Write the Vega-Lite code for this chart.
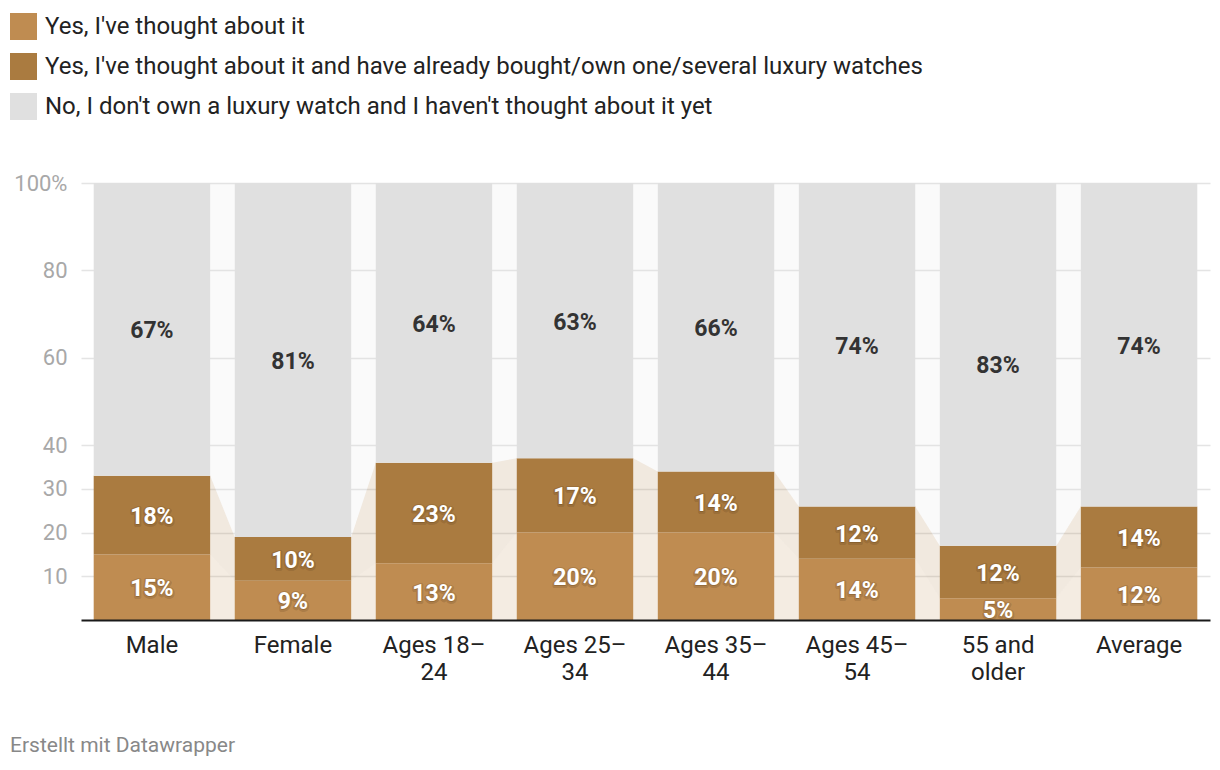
{
  "$schema": "https://vega.github.io/schema/vega-lite/v6.json",
  "width": 1129,
  "height": 437,
  "autosize": {"type": "none"},
  "padding": {"left": 81, "top": 183, "right": 10, "bottom": 150},
  "background": "#ffffff",
  "config": {
    "font": "Roboto",
    "view": {"stroke": null},
    "legend": {
      "orient": "none",
      "legendX": -71,
      "legendY": -170,
      "direction": "vertical",
      "title": null,
      "symbolType": "square",
      "symbolSize": 729,
      "symbolStrokeWidth": 0,
      "symbolOpacity": 1,
      "labelFontSize": 24,
      "labelColor": "#222222",
      "labelFont": "Roboto",
      "labelOffset": 8,
      "labelLimit": 1100,
      "rowPadding": 13,
      "padding": 0
    }
  },
  "resolve": {"scale": {"xOffset": "independent"}},
  "datasets": {
    "main": [
      {"cat": "Male", "a": 15, "b": 18, "c": 67},
      {"cat": "Female", "a": 9, "b": 10, "c": 81},
      {"cat": "Ages 18–24", "a": 13, "b": 23, "c": 64},
      {"cat": "Ages 25–34", "a": 20, "b": 17, "c": 63},
      {"cat": "Ages 35–44", "a": 20, "b": 14, "c": 66},
      {"cat": "Ages 45–54", "a": 14, "b": 12, "c": 74},
      {"cat": "55 and older", "a": 5, "b": 12, "c": 83},
      {"cat": "Average", "a": 12, "b": 14, "c": 74}
    ],
    "names": [
      {"key": "a", "series": "Yes, I've thought about it"},
      {"key": "b", "series": "Yes, I've thought about it and have already bought/own one/several luxury watches"},
      {"key": "c", "series": "No, I don't own a luxury watch and I haven't thought about it yet"}
    ],
    "gaps": [
      {"gap": 1, "cat": "Male", "side": "R"}, {"gap": 1, "cat": "Female", "side": "L"},
      {"gap": 2, "cat": "Female", "side": "R"}, {"gap": 2, "cat": "Ages 18–24", "side": "L"},
      {"gap": 3, "cat": "Ages 18–24", "side": "R"}, {"gap": 3, "cat": "Ages 25–34", "side": "L"},
      {"gap": 4, "cat": "Ages 25–34", "side": "R"}, {"gap": 4, "cat": "Ages 35–44", "side": "L"},
      {"gap": 5, "cat": "Ages 35–44", "side": "R"}, {"gap": 5, "cat": "Ages 45–54", "side": "L"},
      {"gap": 6, "cat": "Ages 45–54", "side": "R"}, {"gap": 6, "cat": "55 and older", "side": "L"},
      {"gap": 7, "cat": "55 and older", "side": "R"}, {"gap": 7, "cat": "Average", "side": "L"}
    ]
  },
  "title": {
    "text": "Erstellt mit Datawrapper",
    "orient": "bottom",
    "anchor": "start",
    "frame": "group",
    "dx": -71,
    "offset": 51,
    "fontSize": 21,
    "fontWeight": "normal",
    "color": "#888888",
    "font": "Roboto"
  },
  "layer": [
    {
      "data": {"name": "gaps"},
      "transform": [
        {"lookup": "cat", "from": {"data": {"name": "main"}, "key": "cat", "fields": ["a", "b", "c"]}},
        {"fold": ["a", "b", "c"], "as": ["key", "pct"]},
        {"stack": "pct", "groupby": ["gap", "side"], "as": ["y0", "y1"]},
        {"lookup": "key", "from": {"data": {"name": "names"}, "key": "key", "fields": ["series"]}}
      ],
      "mark": {"type": "area", "opacity": 0.17},
      "encoding": {
        "x": {"field": "cat", "type": "nominal", "bandPosition": 0, "sort": ["Male", "Female", "Ages 18–24", "Ages 25–34", "Ages 35–44", "Ages 45–54", "55 and older", "Average"]},
        "xOffset": {"field": "side", "type": "nominal", "scale": {"type": "point", "padding": 0, "domain": ["L", "R"]}},
        "y": {"field": "y0", "type": "quantitative"},
        "y2": {"field": "y1"},
        "color": {"field": "series", "type": "nominal"},
        "detail": {"field": "gap"}
      }
    },
    {
      "data": {"name": "main"},
      "transform": [
        {"fold": ["a", "b", "c"], "as": ["key", "pct"]},
        {"stack": "pct", "groupby": ["cat"], "as": ["y0", "y1"]},
        {"lookup": "key", "from": {"data": {"name": "names"}, "key": "key", "fields": ["series"]}}
      ],
      "mark": {"type": "bar", "opacity": 1},
      "encoding": {
        "x": {
          "field": "cat", "type": "nominal",
          "sort": ["Male", "Female", "Ages 18–24", "Ages 25–34", "Ages 35–44", "Ages 45–54", "55 and older", "Average"],
          "scale": {"paddingInner": 0.174, "paddingOuter": 0.09},
          "axis": {
            "title": null, "labelAngle": 0, "ticks": false, "grid": false,
            "bandPosition": 0.5, "labelAlign": "center",
            "domainColor": "#1a1a1a", "domainWidth": 2, "zindex": 1,
            "labelFontSize": 24, "labelColor": "#222222", "labelFont": "Roboto",
            "labelPadding": 25, "labelLineHeight": 27,
            "labelExpr": "indexof(datum.value, '–') > 0 ? [substring(datum.value, 0, indexof(datum.value, '–') + 1), substring(datum.value, indexof(datum.value, '–') + 1)] : (datum.value == '55 and older' ? ['55 and', 'older'] : datum.value)"
          }
        },
        "y": {
          "field": "y0", "type": "quantitative",
          "scale": {"domain": [0, 100], "nice": false},
          "axis": {
            "title": null, "values": [10, 20, 30, 40, 60, 80, 100],
            "labelExpr": "datum.value == 100 ? '100%' : datum.label",
            "ticks": false, "domain": false, "zindex": 0,
            "labelColor": "#a8a8a8", "labelFontSize": 22, "labelFont": "Roboto", "labelPadding": 14,
            "gridColor": "#e4e4e4", "gridWidth": 1.5
          }
        },
        "y2": {"field": "y1"},
        "color": {
          "field": "series", "type": "nominal",
          "scale": {
            "domain": ["Yes, I've thought about it", "Yes, I've thought about it and have already bought/own one/several luxury watches", "No, I don't own a luxury watch and I haven't thought about it yet"],
            "range": ["#bf8c51", "#aa7b40", "#e0e0e0"]
          }
        }
      }
    },
    {
      "data": {"name": "main"},
      "transform": [
        {"fold": ["a", "b", "c"], "as": ["key", "pct"]},
        {"stack": "pct", "groupby": ["cat"], "as": ["y0", "y1"]},
        {"fold": ["y0", "y1"], "as": ["k", "v"]},
        {"aggregate": [{"op": "mean", "field": "v", "as": "mid"}], "groupby": ["cat", "key", "pct"]},
        {"filter": {"field": "key", "oneOf": ["a", "b"]}}
      ],
      "mark": {"type": "text", "font": "Roboto", "fontWeight": "bold", "fontSize": 23, "fill": "#5a3d1a", "fillOpacity": 0.3, "stroke": "#4a3214", "strokeOpacity": 0.18, "strokeWidth": 4, "strokeJoin": "round", "baseline": "middle", "dy": 3, "text": {"expr": "datum.pct + '%'"}},
      "encoding": {
        "x": {"field": "cat", "type": "nominal", "sort": ["Male", "Female", "Ages 18–24", "Ages 25–34", "Ages 35–44", "Ages 45–54", "55 and older", "Average"]},
        "y": {"field": "mid", "type": "quantitative"}
      }
    },
    {
      "data": {"name": "main"},
      "transform": [
        {"fold": ["a", "b", "c"], "as": ["key", "pct"]},
        {"stack": "pct", "groupby": ["cat"], "as": ["y0", "y1"]},
        {"fold": ["y0", "y1"], "as": ["k", "v"]},
        {"aggregate": [{"op": "mean", "field": "v", "as": "mid"}], "groupby": ["cat", "key", "pct"]},
        {"filter": {"field": "key", "oneOf": ["a", "b"]}}
      ],
      "mark": {"type": "text", "font": "Roboto", "fontWeight": "bold", "fontSize": 23, "fill": "#ffffff", "baseline": "middle", "dy": 2, "text": {"expr": "datum.pct + '%'"}},
      "encoding": {
        "x": {"field": "cat", "type": "nominal", "sort": ["Male", "Female", "Ages 18–24", "Ages 25–34", "Ages 35–44", "Ages 45–54", "55 and older", "Average"]},
        "y": {"field": "mid", "type": "quantitative"}
      }
    },
    {
      "data": {"name": "main"},
      "transform": [
        {"fold": ["a", "b", "c"], "as": ["key", "pct"]},
        {"stack": "pct", "groupby": ["cat"], "as": ["y0", "y1"]},
        {"fold": ["y0", "y1"], "as": ["k", "v"]},
        {"aggregate": [{"op": "mean", "field": "v", "as": "mid"}], "groupby": ["cat", "key", "pct"]},
        {"filter": {"field": "key", "equal": "c"}}
      ],
      "mark": {"type": "text", "font": "Roboto", "fontWeight": "bold", "fontSize": 23, "fill": "#333333", "baseline": "middle", "dy": 2, "text": {"expr": "datum.pct + '%'"}},
      "encoding": {
        "x": {"field": "cat", "type": "nominal", "sort": ["Male", "Female", "Ages 18–24", "Ages 25–34", "Ages 35–44", "Ages 45–54", "55 and older", "Average"]},
        "y": {"field": "mid", "type": "quantitative"}
      }
    }
  ]
}
